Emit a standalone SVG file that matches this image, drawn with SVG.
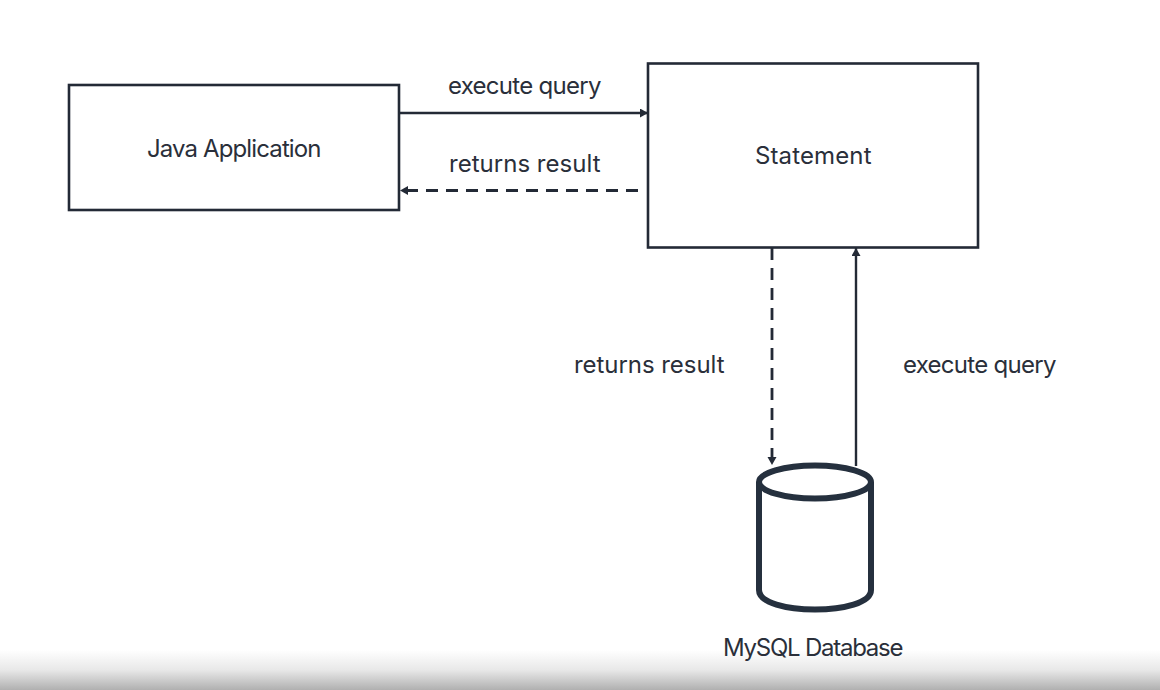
<svg xmlns="http://www.w3.org/2000/svg" width="1160" height="690" viewBox="0 0 1160 690">
<style>
text{font-family:"Inter","Noto Sans","Liberation Sans",sans-serif;font-size:24px;fill:#2a2f3a;text-anchor:middle;letter-spacing:-0.5px}
.box{fill:#fff;stroke:#232a36;stroke-width:2.6}
.c{fill:none;stroke:#232a36;stroke-width:2.4}
.d{stroke-width:2.8;stroke-dasharray:12 8}
.db{fill:none;stroke:#25303e;stroke-width:6}
</style>
<defs>
<marker id="a" markerUnits="userSpaceOnUse" markerWidth="9" markerHeight="10" refX="8" refY="4.5" orient="auto"><path d="M0 0L8 4.5L0 9Z" fill="#232a36"/></marker>
<linearGradient id="g" x1="0" y1="0" x2="0" y2="1"><stop offset="0" stop-color="#fff"/><stop offset="0.5" stop-color="#e8e8e8"/><stop offset="1" stop-color="#b0b0b0"/></linearGradient>
</defs>
<rect width="1160" height="690" fill="#fff"/>
<rect y="650" width="1160" height="40" fill="url(#g)"/>
<g id="java-application"><rect class="box" x="69" y="85" width="330" height="125"/><text x="234" y="157" textLength="174">Java Application</text></g>
<g id="statement"><rect class="box" x="648" y="63.500" width="330" height="184"/><text x="813" y="164" textLength="116">Statement</text></g>
<g id="mysql-database"><path class="db" d="M759 482V590C759 616 871 616 871 590V482"/><ellipse class="db" cx="815" cy="482" rx="56" ry="16.500"/><text x="813" y="656" textLength="180">MySQL Database</text></g>
<g id="connectors">
<path class="c" d="M399 113H648" marker-end="url(#a)"/>
<path class="c d" d="M638 190.500H400" marker-end="url(#a)"/>
<path class="c d" d="M772 248V465" marker-end="url(#a)"/>
<path class="c" d="M856 466V248" marker-end="url(#a)"/>
</g>
<g id="labels">
<text x="524.500" y="94" textLength="153">execute query</text>
<text x="524.500" y="172" textLength="151">returns result</text>
<text x="649" y="373" textLength="150">returns result</text>
<text x="979.500" y="373" textLength="153">execute query</text>
</g>
</svg>
